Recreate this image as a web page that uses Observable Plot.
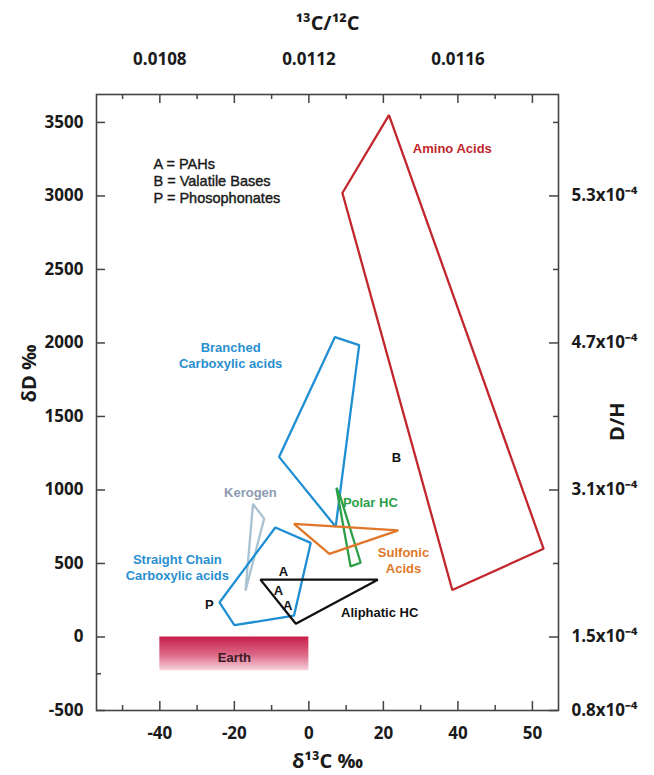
<!DOCTYPE html>
<html><head><meta charset="utf-8">
<script src="https://cdn.jsdelivr.net/npm/d3@7"></script>
<script src="https://cdn.jsdelivr.net/npm/@observablehq/plot@0.6"></script>
<style>body{margin:0;background:#fff;} svg{display:block}</style>
</head><body><div id="chart"></div>
<script>
// ---- axis ticks / labels ----
const bottomTicks = [-40, -20, 0, 20, 40, 60];
const bottomTickLabels = ["-40", "-20", "0", "20", "40", "50"];
const bottomMinorTicks = [-50, -30, -10, 10, 30, 50];
const ratioMajor = [0.0108, 0.0110, 0.0112, 0.0114, 0.0116, 0.0118];
const ratioMinor = [0.0107, 0.0109, 0.0111, 0.0113, 0.0115, 0.0117];
const ratioLabeled = [0.0108, 0.0112, 0.0116];
const dDTicks = [-500, 0, 500, 1000, 1500, 2000, 2500, 3000, 3500];
const dDMinor = [-250];
const dhTicks = [3000, 2000, 1000, 0, -500];
const dhLabels = ["5.3x10⁻⁴", "4.7x10⁻⁴", "3.1x10⁻⁴", "1.5x10⁻⁴", "0.8x10⁻⁴"];
const dhMinor = [3500, 2500, 1500, 500];

// ---- fields: [δ13C, δD] vertices ----
const aminoAcids = [[21.5, 3550], [9, 3020], [38.5, 320], [63, 600]];
const branchedCarboxylic = [[7, 2040], [13.5, 1985], [7.2, 750], [-8, 1225]];
const polarHC = [[7.4, 1015], [8.5, 950], [13.9, 505], [11.2, 480]];
const sulfonicAcids = [[-4, 770], [24, 725], [5.5, 565]];
const kerogen = [[-15, 905], [-12, 805], [-17, 315]];
const straightCarboxylic = [[-9, 745], [0.5, 640], [-4, 145], [-20, 80], [-24, 235]];
const aliphaticHC = [[-13, 390], [18.5, 390], [-3.5, 90]];
const earth = {x1: -40, x2: 0, y1: -230, y2: 0};

const fieldNames = ["Amino Acids", "Branched", "Polar HC", "Sulfonic", "Kerogen", "Straight", "Aliphatic"];
const fieldVerts = [aminoAcids, branchedCarboxylic, polarHC, sulfonicAcids, kerogen, straightCarboxylic, aliphaticHC];
const fieldColors = ["#c1272d", "#1f8fd3", "#2c9f48", "#e07728", "#a9c3d3", "#1f8fd3", "#111111"];

// ---- labels ----
const labelTexts = ["Amino Acids", "Branched\nCarboxylic acids", "Kerogen", "Polar HC", "Sulfonic\nAcids",
  "Straight Chain\nCarboxylic acids", "Aliphatic HC", "A", "A", "A", "P", "B"];
const labelX = [38.5, -21, -15.7, 16.5, 25.4, -35.3, 19, -6.8, -8.2, -5.7, -26.7, 23.5];
const labelY = [3330, 1922, 990, 922, 527, 480, 173, 452, 323, 221, 228, 1228];
const labelColors = ["#c1272d", "#2a8fd0", "#8d9bb0", "#2c9f48", "#e07728", "#2a8fd0", "#111", "#111", "#111", "#111", "#111", "#111"];
const legendText = "A = PAHs\nB = Valatile Bases\nP = Phosophonates";

const polys = fieldVerts.flatMap((vs, i) => vs.map(([x, y]) => ({name: fieldNames[i], x, y, c: fieldColors[i]})));
const labels = labelTexts.map((t, i) => ({t, x: labelX[i], y: labelY[i], c: labelColors[i]}));
const toDelta = r => (r - 0.0112) * 1e5;

const W = 654, H = 775, MT = 94, MB = 65, ML = 96, MR = 96;
const PW = W - ML - MR, PH = H - MT - MB;
const tickFont = {fontFamily: "Open Sans", fontWeight: "bold", fontSize: 17};
const tickStroke = {stroke: "#444", strokeWidth: 1.5};

const plot = Plot.plot({
  width: W, height: H,
  marginTop: MT, marginBottom: MB, marginLeft: ML, marginRight: MR,
  style: {background: "#fff", color: "#1a1a1a", overflow: "visible"},
  x: {domain: [-57, 67]},
  y: {domain: [-500, 3690]},
  marks: [
    // Earth band
    Plot.rect([earth], {x1: "x1", x2: "x2", y1: "y1", y2: "y2", fill: "url(#earthGrad)"}),
    Plot.text(["Earth"], {x: -20, y: -140, fontFamily: "Liberation Sans", fontWeight: "bold", fontSize: 13, fill: "#3b1a26"}),
    // fields
    Plot.line(polys, {x: "x", y: "y", z: "name", stroke: "c", strokeWidth: 2.3, curve: "linear-closed", strokeLinejoin: "miter"}),
    // labels
    Plot.text(labels, {x: "x", y: "y", text: "t", fill: "c", fontFamily: "Liberation Sans", fontWeight: "bold", fontSize: 13, lineHeight: 1.24}),
    Plot.text([legendText], {x: -41.7, y: 3105, textAnchor: "start", fontFamily: "Liberation Sans", fontSize: 14.5, lineHeight: 1.17, fill: "#1a1a1a", stroke: "#1a1a1a", strokeWidth: 0.4}),
    // inward tick marks
    Plot.ruleX(bottomTicks, {x: d => d, insetTop: PH - 9, ...tickStroke}),
    Plot.ruleX(bottomMinorTicks, {x: d => d, insetTop: PH - 5, ...tickStroke}),
    Plot.ruleX(ratioMajor.map(toDelta), {x: d => d, insetBottom: PH - 9, ...tickStroke}),
    Plot.ruleX(ratioMinor.map(toDelta), {x: d => d, insetBottom: PH - 5, ...tickStroke}),
    Plot.ruleY(dDTicks, {y: d => d, insetRight: PW - 9, ...tickStroke}),
    Plot.ruleY(dDMinor, {y: d => d, insetRight: PW - 5, ...tickStroke}),
    Plot.ruleY(dhTicks, {y: d => d, insetLeft: PW - 9, ...tickStroke}),
    Plot.ruleY(dhMinor, {y: d => d, insetLeft: PW - 5, ...tickStroke}),
    // tick labels
    Plot.axisX(bottomTicks, {anchor: "bottom", tickSize: 0, tickPadding: 16, tickFormat: d => bottomTickLabels[bottomTicks.indexOf(d)], label: null, ...tickFont}),
    Plot.axisX(ratioLabeled.map(toDelta), {anchor: "top", tickSize: 0, tickPadding: 30, tickFormat: d => String(ratioLabeled[Math.round((d + 40) / 40)]), label: null, ...tickFont}),
    Plot.axisY(dDTicks, {anchor: "left", tickSize: 0, tickPadding: 13, tickFormat: d => String(d), label: null, ...tickFont}),
    Plot.axisY(dhTicks, {anchor: "right", tickSize: 0, tickPadding: 13, tickFormat: d => dhLabels[dhTicks.indexOf(d)], label: null, ...tickFont}),
    Plot.frame({stroke: "#444", strokeWidth: 1.6}),
    // axis titles
    Plot.text(["¹³C/¹²C"], {frameAnchor: "top", dy: -79, fontFamily: "Open Sans", fontWeight: "bold", fontSize: 20}),
    Plot.text(["δ¹³C ‰"], {frameAnchor: "bottom", dy: 57, fontFamily: "Open Sans", fontWeight: "bold", fontSize: 20}),
    Plot.text(["δD ‰"], {frameAnchor: "left", dx: -67, rotate: -90, fontFamily: "Open Sans", fontWeight: "bold", fontSize: 20}),
    Plot.text(["D/H"], {frameAnchor: "right", dx: 59, rotate: -90, fontFamily: "Open Sans", fontWeight: "bold", fontSize: 20})
  ]
});

const svg = d3.select(plot);
const defs = svg.insert("defs", ":first-child");
const g = defs.append("linearGradient").attr("id", "earthGrad").attr("x1", 0).attr("y1", 0).attr("x2", 0).attr("y2", 1);
g.append("stop").attr("offset", "0%").attr("stop-color", "#c81e4b");
g.append("stop").attr("offset", "55%").attr("stop-color", "#dd6a88");
g.append("stop").attr("offset", "100%").attr("stop-color", "#f8d3dd");
document.getElementById("chart").appendChild(plot);
</script>
</body></html>
